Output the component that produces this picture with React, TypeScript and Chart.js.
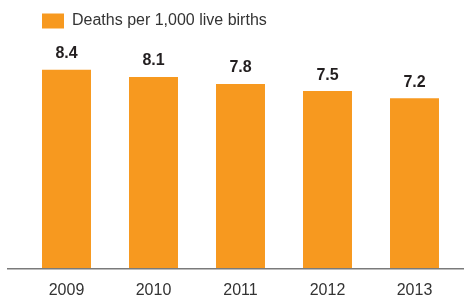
import React, { useEffect, useRef } from "react";
import { Chart, registerables } from "chart.js";

Chart.register(...registerables);

const categories = ["2009", "2010", "2011", "2012", "2013"];
const deathsPer1000 = [8.4, 8.1, 7.8, 7.5, 7.2];
const seriesLabel = "Deaths per 1,000 live births";

const FONT = "'Liberation Sans', Arial, sans-serif";
const ORANGE = "#F7991F";

const valueLabels = {
  id: "valueLabels",
  afterDatasetsDraw(chart: any) {
    const ctx = chart.ctx;
    const meta = chart.getDatasetMeta(0);
    ctx.save();
    ctx.font = `bold 16px ${FONT}`;
    ctx.fillStyle = "#231f20";
    ctx.textAlign = "center";
    ctx.textBaseline = "bottom";
    meta.data.forEach((bar: any, i: number) => {
      const v = chart.data.datasets[0].data[i];
      ctx.fillText(v.toFixed(1), bar.x, bar.y - 8);
    });
    ctx.restore();
  },
};

const baseLine = {
  id: "baseLine",
  afterDraw(chart: any) {
    const ctx = chart.ctx;
    const y = chart.scales.y.getPixelForValue(0);
    ctx.save();
    ctx.strokeStyle = "#7a7a7a";
    ctx.lineWidth = 1.5;
    ctx.beginPath();
    ctx.moveTo(7, y);
    ctx.lineTo(chart.width, y);
    ctx.stroke();
    ctx.restore();
  },
};

export default function App() {
  const ref = useRef<HTMLCanvasElement>(null);
  useEffect(() => {
    const chart = new Chart(ref.current!, {
      type: "bar",
      data: {
        labels: categories,
        datasets: [
          {
            label: seriesLabel,
            data: deathsPer1000,
            backgroundColor: ORANGE,
            borderWidth: 0,
            categoryPercentage: 1,
            barPercentage: 0.563,
          },
        ],
      },
      options: {
        animation: false,
        responsive: false,
        layout: { padding: { left: 23, right: 6, top: -6, bottom: -12 } },
        plugins: {
          tooltip: { enabled: false },
          legend: {
            display: true,
            align: "start",
            labels: {
              boxWidth: 22,
              boxHeight: 15,
              color: "#333333",
              font: { family: FONT, size: 16 },
              padding: 19,
            },
          },
        },
        scales: {
          x: {
            grid: { display: false, drawTicks: false },
            border: { display: false },
            ticks: { color: "#333333", font: { family: FONT, size: 16 }, padding: 12 },
          },
          y: {
            display: false,
            min: 0,
            max: 9.7,
          },
        },
      },
      plugins: [valueLabels, baseLine],
    });
    return () => chart.destroy();
  }, []);
  return (
    <div style={{ position: "fixed", left: 0, top: 0, width: 464, height: 300, background: "#fff" }}>
      <canvas ref={ref} width={464} height={300} style={{ display: "block" }} />
    </div>
  );
}
